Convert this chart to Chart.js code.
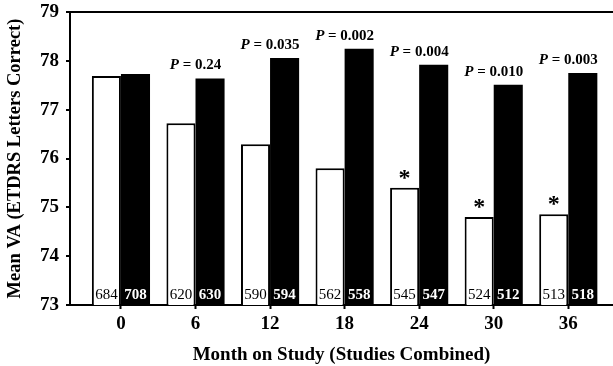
<!DOCTYPE html>
<html>
<head>
<meta charset="utf-8">
<script src="https://cdn.jsdelivr.net/npm/chart.js@4/dist/chart.umd.min.js"></script>
<style>
  html, body { margin: 0; padding: 0; background: #fff; }
  #wrap { width: 613px; height: 366px; }
</style>
</head>
<body>
<div id="wrap"><canvas id="vaChart" width="613" height="366"></canvas></div>
<script>
// valores (aprox.)
const months = [0, 6, 12, 18, 24, 30, 36];
const whiteVA = [77.69, 76.72, 76.29, 75.80, 75.40, 74.80, 74.86];
const blackVA = [77.73, 77.64, 78.06, 78.25, 77.92, 77.51, 77.75];
const whiteN = [684, 620, 590, 562, 545, 524, 513];
const blackN = [708, 630, 594, 558, 547, 512, 518];
const pValues = ['', '0.24', '0.035', '0.002', '0.004', '0.010', '0.003'];
const starred = [false, false, false, false, true, true, true];
const yTicks = [73, 74, 75, 76, 77, 78, 79];

const SERIF = '"Liberation Serif", "Times New Roman", serif';

// textos sobre as barras
const labelsPlugin = {
    id: 'barLabels',
    afterDatasetsDraw(chart) {
        const c = chart.ctx;
        const m0 = chart.getDatasetMeta(0);
        const m1 = chart.getDatasetMeta(1);
        const base = chart.scales.y.getPixelForValue(73);
        c.save();
        c.textBaseline = 'alphabetic';
        months.forEach((mo, i) => {
            const w = m0.data[i], b = m1.data[i];
            // contagens
            c.textAlign = 'center';
            c.fillStyle = '#000';
            c.font = '15px ' + SERIF;
            c.fillText(whiteN[i], w.x, base - 6);
            c.fillStyle = '#fff';
            c.font = 'bold 15px ' + SERIF;
            c.fillText(blackN[i], b.x, base - 6);

            // valores de P
            if (pValues[i]) {
                const cx = chart.scales.x.getPixelForValue(mo);
                const y = b.y - 9;
                c.fillStyle = '#000';
                c.font = 'italic bold 15px ' + SERIF;
                const pW = c.measureText('P').width;
                c.font = 'bold 15px ' + SERIF;
                const rest = ' = ' + pValues[i];
                const rW = c.measureText(rest).width;
                let x0 = cx - (pW + rW) / 2;
                c.textAlign = 'left';
                c.font = 'italic bold 15px ' + SERIF;
                c.fillText('P', x0, y);
                c.font = 'bold 15px ' + SERIF;
                c.fillText(rest, x0 + pW, y);
            }

            // asterisco
            if (starred[i]) {
                c.textAlign = 'center';
                c.fillStyle = '#000';
                c.font = 'bold 24px ' + SERIF;
                c.fillText('*', w.x, w.y - 3);
            }
        });
        c.restore();
    }
};

new Chart(document.getElementById('vaChart'), {
    type: 'bar',
    data: {
        datasets: [
            {
                label: 'A',
                data: months.map((m, i) => ({ x: m, y: whiteVA[i] })),
                backgroundColor: '#fff',
                borderColor: '#000',
                borderWidth: 2,
                borderSkipped: 'bottom'
            },
            {
                label: 'B',
                data: months.map((m, i) => ({ x: m, y: blackVA[i] })),
                backgroundColor: '#000',
                borderColor: '#000',
                borderWidth: 0
            }
        ]
    },
    options: {
        responsive: false,
        animation: false,
        devicePixelRatio: 1,
        categoryPercentage: 0.78,
        barPercentage: 1.0,
        layout: { padding: { top: 0, right: 0, left: 0, bottom: 0 } },
        plugins: {
            legend: { display: false },
            tooltip: { enabled: false }
        },
        scales: {
            x: {
                type: 'linear',
                offset: false,
                min: -4.1,
                max: 39.6,
                afterBuildTicks: (s) => { s.ticks = months.map(v => ({ value: v })); },
                afterFit: (s) => { s.height = 61; },
                ticks: {
                    color: '#000',
                    font: { family: SERIF, size: 19, weight: 'bold' },
                    padding: 4,
                    maxRotation: 0,
                    autoSkip: false
                },
                grid: { offset: false, drawOnChartArea: false, tickLength: 4, tickColor: '#000', tickWidth: 2 },
                border: { display: true, color: '#000', width: 2 },
                title: {
                    display: true,
                    text: 'Month on Study (Studies Combined)',
                    color: '#000',
                    font: { family: SERIF, size: 19, weight: 'bold' },
                    padding: { top: 6, bottom: 0 }
                }
            },
            y: {
                min: 73,
                max: 79,
                afterBuildTicks: (s) => { s.ticks = yTicks.map(v => ({ value: v })); },
                afterFit: (s) => { s.width = 70; s.paddingTop = 12; },
                ticks: {
                    color: '#000',
                    font: { family: SERIF, size: 19, weight: 'bold', lineHeight: 1.0 },
                    padding: 7
                },
                grid: {
                    color: (ctx) => (ctx.tick && ctx.tick.value === 79 ? '#000' : 'rgba(0,0,0,0)'),
                    lineWidth: 2,
                    tickLength: 4,
                    tickColor: '#000',
                    tickWidth: 2
                },
                border: { display: true, color: '#000', width: 2 },
                title: {
                    display: true,
                    text: 'Mean VA (ETDRS Letters Correct)',
                    color: '#000',
                    font: { family: SERIF, size: 18.5, weight: 'bold' },
                    padding: { top: 4, bottom: 4 }
                }
            }
        }
    },
    plugins: [labelsPlugin]
});
</script>
</body>
</html>
